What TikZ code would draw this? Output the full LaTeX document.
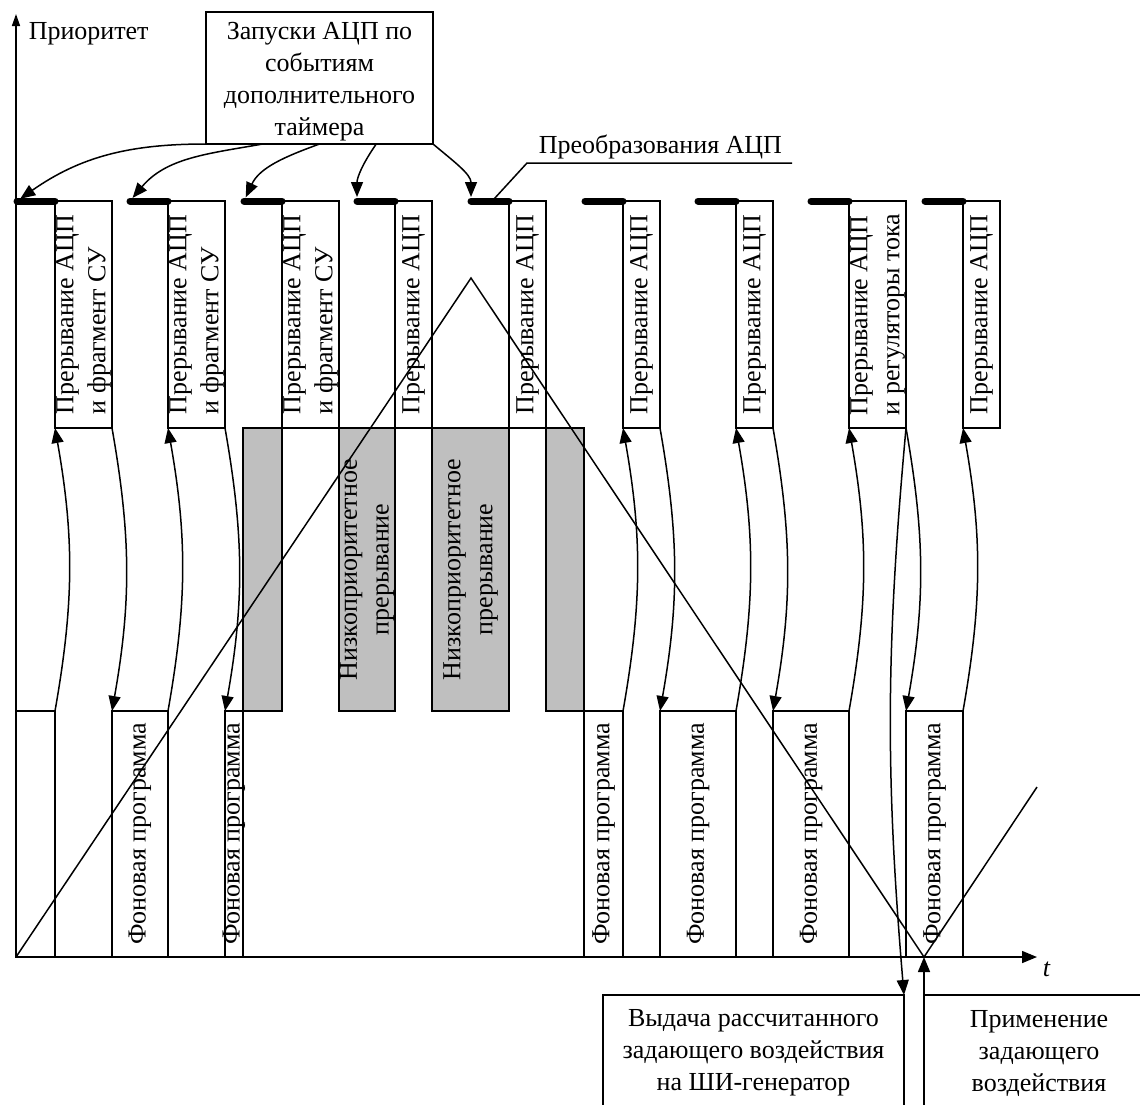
\documentclass[tikz,border=0pt]{standalone}
\usepackage{fontspec}
\setmainfont{Liberation Serif}
\usetikzlibrary{arrows.meta,calc}

\begin{document}
\begin{tikzpicture}[
    x=1pt, y=1pt,
    font=\fontsize{26}{32}\selectfont,
    line width=1.5pt,
    intbox/.style={rectangle, draw, fill=white, minimum height=227pt, inner sep=0pt, outer sep=0pt},
    bgbox/.style={rectangle, draw, minimum height=246pt, inner sep=0pt, outer sep=0pt},
    lowbox/.style={rectangle, draw, fill=black!25, minimum height=283pt, inner sep=0pt, outer sep=0pt},
    textbox/.style={rectangle, draw, fill=white, align=center, inner sep=0pt, outer sep=0pt},
    vtext/.style={rotate=90, inner sep=0pt},
    adcbar/.style={line width=7pt, line cap=round},
    arrow/.style={-{Triangle[length=15pt, width=12pt]}}
]

% Frame
\useasboundingbox (0,0) rectangle (1140,-1104);
\clip (0,0) rectangle (1140,-1104);

% Background program
\node[bgbox, minimum width=39pt] (f0) at (35.5,-834) {};
\node[bgbox, minimum width=56pt] (f1) at (140,-834) {};
\node[bgbox, minimum width=18pt] (f2) at (234,-834) {};
\node[bgbox, minimum width=39pt] (f3) at (603.5,-834) {};
\node[bgbox, minimum width=76pt] (f4) at (698,-834) {};
\node[bgbox, minimum width=76pt] (f5) at (811,-834) {};
\node[bgbox, minimum width=57pt] (f6) at (934.5,-834) {};

% Low-priority interrupt
\node[lowbox, minimum width=39pt] (g1) at (262.5,-569.5) {};
\node[lowbox, minimum width=56pt] (g2) at (367,-569.5) {};
\node[lowbox, minimum width=77pt] (g3) at (470.5,-569.5) {};
\node[lowbox, minimum width=38pt] (g4) at (565,-569.5) {};

% ADC interrupts
\node[intbox, minimum width=57pt] (i1) at (83.5,-314.5) {};
\node[intbox, minimum width=57pt] (i2) at (196.5,-314.5) {};
\node[intbox, minimum width=57pt] (i3) at (310.5,-314.5) {};
\node[intbox, minimum width=37pt] (i4) at (413.5,-314.5) {};
\node[intbox, minimum width=37pt] (i5) at (527.5,-314.5) {};
\node[intbox, minimum width=37pt] (i6) at (641.5,-314.5) {};
\node[intbox, minimum width=37pt] (i7) at (754.5,-314.5) {};
\node[intbox, minimum width=57pt] (i8) at (877.5,-314.5) {};
\node[intbox, minimum width=37pt] (i9) at (981.5,-314.5) {};

% Texts
\node[vtext, align=left] (i1t) at (i1) {Прерывание АЦП\\и фрагмент СУ};
\node[vtext, align=left] (i2t) at (i2) {Прерывание АЦП\\и фрагмент СУ};
\node[vtext, align=left] (i3t) at (i3) {Прерывание АЦП\\и фрагмент СУ};
\node[vtext] (i4t) at (i4) {Прерывание АЦП};
\node[vtext] (i5t) at (i5) {Прерывание АЦП};
\node[vtext] (i6t) at (i6) {Прерывание АЦП};
\node[vtext] (i7t) at (i7) {Прерывание АЦП};
\node[vtext, align=left] (i8t) at (i8) {Прерывание АЦП\\и регуляторы тока};
\node[vtext] (i9t) at (i9) {Прерывание АЦП};
\node[vtext] (f1t) at (f1) {Фоновая программа};
\node[vtext] (f2t) at (f2) {Фоновая программа};
\node[vtext] (f3t) at (f3) {Фоновая программа};
\node[vtext] (f4t) at (f4) {Фоновая программа};
\node[vtext] (f5t) at (f5) {Фоновая программа};
\node[vtext] (f6t) at (f6) {Фоновая программа};
\node[vtext, align=center] (g2t) at (g2) {Низкоприоритетное\\прерывание};
\node[vtext, align=center] (g3t) at (g3) {Низкоприоритетное\\прерывание};

% ADC conversions
\coordinate (b1) at (17,-201);
\coordinate (b2) at (130,-201);
\coordinate (b3) at (244,-201);
\coordinate (b4) at (357,-201);
\coordinate (b5) at (471,-201);
\coordinate (b6) at (585,-201);
\coordinate (b7) at (698,-201);
\coordinate (b8) at (811,-201);
\coordinate (b9) at (925,-201);
\draw[adcbar] (b1) -- (i1.north west);
\draw[adcbar] (b2) -- (i2.north west);
\draw[adcbar] (b3) -- (i3.north west);
\draw[adcbar] (b4) -- (i4.north west);
\draw[adcbar] (b5) -- (i5.north west);
\draw[adcbar] (b6) -- (i6.north west);
\draw[adcbar] (b7) -- (i7.north west);
\draw[adcbar] (b8) -- (i8.north west);
\draw[adcbar] (b9) -- (i9.north west);

% Timer events
\node[textbox, minimum width=227pt, minimum height=132pt] (zap) at (319.5,-78) {};
\node[align=center, inner sep=0pt] (zapt) at (319.5,-82) {Запуски АЦП по\\событиям\\дополнительного\\таймера};
\coordinate (z1) at ($(zap.south west)!0.25!(zap.south east)$);
\coordinate (z3) at ($(zap.south west)!0.75!(zap.south east)$);
\draw[arrow, shorten >=4pt] (zap.south west) to[out=180, in=35] (b1);
\draw[arrow, shorten >=4pt] (z1) to[out=190, in=50] (b2);
\draw[arrow, shorten >=4pt] (zap.south) to[out=200, in=65] (b3);
\draw[arrow, shorten >=4pt] (z3) to[out=235, in=90] (b4);
\draw[arrow, shorten >=4pt] (zap.south east) to[out=-40, in=90] (b5);

% Label of conversions
\node[anchor=base west, inner sep=0pt] (conv) at (538,-153) {Преобразования АЦП};
\coordinate (l0) at (494,-199);
\coordinate (l1) at (527,-163);
\coordinate (l2) at (792,-163);
\draw (l0) -- (l1) -- (l2);

% Switching arrows
\draw[arrow] (f0.north east) to[bend right=10] (i1.south west);
\draw[arrow] (i1.south east) to[bend left=10] (f1.north west);
\draw[arrow] (f1.north east) to[bend right=10] (i2.south west);
\draw[arrow] (i2.south east) to[bend left=10] (f2.north west);
\draw[arrow] (f3.north east) to[bend right=10] (i6.south west);
\draw[arrow] (i6.south east) to[bend left=10] (f4.north west);
\draw[arrow] (f4.north east) to[bend right=10] (i7.south west);
\draw[arrow] (i7.south east) to[bend left=10] (f5.north west);
\draw[arrow] (f5.north east) to[bend right=10] (i8.south west);
\draw[arrow] (i8.south east) to[bend left=10] (f6.north west);
\draw[arrow] (f6.north east) to[bend right=10] (i9.south west);

% Output boxes
\node[textbox, minimum width=301pt, minimum height=116pt] (vyd) at (753.5,-1053) {Выдача рассчитанного\\задающего воздействия\\на ШИ-генератор};
\node[textbox, minimum width=230pt, minimum height=116pt] (prim) at (1039,-1053) {Применение\\задающего\\воздействия};

% Carrier
\coordinate (o) at (16,-957);
\coordinate (apex) at (471,-278);
\coordinate (vtx) at (924,-957);
\coordinate (rise) at (1037,-787);
\draw (o) -- (apex) -- (vtx) -- (rise);

\draw[arrow] (i8.south east) to[bend right=5] (vyd.north east);
\draw[arrow] (prim.north west) -- (vtx);

% Axes
\coordinate (ytop) at (16,-14);
\coordinate (xend) at (1037,-957);
\draw[-{Triangle[length=12pt, width=8pt]}] (o) -- (ytop);
\draw[arrow] (o) -- (xend);
\node[anchor=base west, inner sep=0pt] (prio) at (28,-39) {Приоритет};
\node[anchor=base west, inner sep=0pt] (tlab) at (1042,-976) {\itshape t};

\end{tikzpicture}
\end{document}
